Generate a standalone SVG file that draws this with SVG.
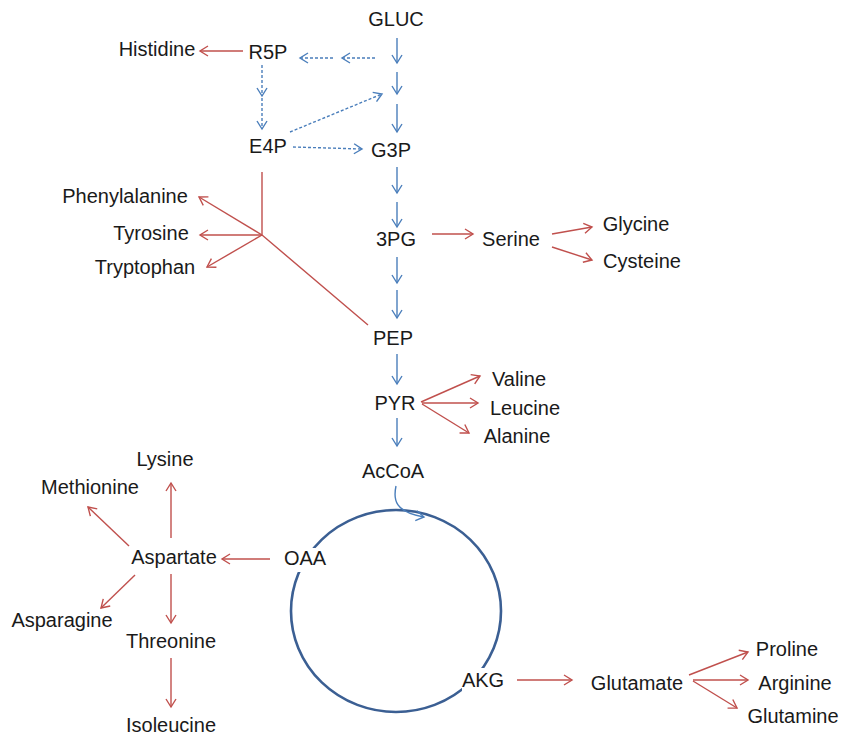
<svg xmlns="http://www.w3.org/2000/svg" width="848" height="738" viewBox="0 0 848 738">
  <defs>
    <marker id="ah-blue" viewBox="-10 -6 12 12" refX="0" refY="0" markerWidth="12" markerHeight="12" markerUnits="userSpaceOnUse" orient="auto">
      <path d="M-8,-5 L0,0 L-8,5" fill="none" stroke="#4a7ebb" stroke-width="1.4"/>
    </marker>
    <marker id="ah-red" viewBox="-10 -6 12 12" refX="0" refY="0" markerWidth="12" markerHeight="12" markerUnits="userSpaceOnUse" orient="auto">
      <path d="M-8,-5 L0,0 L-8,5" fill="none" stroke="#c0504d" stroke-width="1.4"/>
    </marker>
  </defs>
  <style>
    text { font-family: "Liberation Sans", Arial, sans-serif; font-size: 20px; fill: #1a1a1a; text-anchor: middle; }
    .blue { stroke: #4a7ebb; stroke-width: 1.4; fill: none; marker-end: url(#ah-blue); }
    .dash { stroke-dasharray: 3 2; }
    .red { stroke: #c0504d; stroke-width: 1.4; fill: none; marker-end: url(#ah-red); }
    .redline { stroke: #c0504d; stroke-width: 1.4; fill: none; }
  </style>
  <rect width="848" height="738" fill="#ffffff"/>

  <!-- TCA cycle -->
  <ellipse id="tca" cx="396" cy="611" rx="105" ry="101" fill="none" stroke="#3b5f93" stroke-width="2.6"/>

  <g id="connectors">
    <!-- glycolysis -->
    <line class="blue" x1="397" y1="38" x2="397" y2="63"/>
    <line class="blue" x1="397" y1="72" x2="397" y2="94"/>
    <line class="blue" x1="397" y1="104" x2="397" y2="132"/>
    <line class="blue" x1="397" y1="167" x2="397" y2="193"/>
    <line class="blue" x1="397" y1="202" x2="397" y2="227"/>
    <line class="blue" x1="397" y1="257" x2="397" y2="283"/>
    <line class="blue" x1="397" y1="290" x2="397" y2="318"/>
    <line class="blue" x1="397" y1="354" x2="397" y2="384"/>
    <line class="blue" x1="397" y1="418" x2="397" y2="446"/>
    <path class="blue" d="M396,486 C393,500 395,512 424,517"/>

    <!-- pentose phosphate (dashed) -->
    <line class="blue dash" x1="375" y1="58" x2="342" y2="58"/>
    <line class="blue dash" x1="333" y1="58" x2="300" y2="58"/>
    <line class="blue dash" x1="262" y1="65" x2="262" y2="96"/>
    <line class="blue dash" x1="262" y1="98" x2="262" y2="129"/>
    <line class="blue dash" x1="290" y1="132" x2="382" y2="94"/>
    <line class="blue dash" x1="293" y1="147" x2="362" y2="149"/>

    <!-- amino acid branches -->
    <line class="red" x1="243" y1="51" x2="200" y2="51"/>
    <polyline class="redline" points="262,172 262,235 368,325"/>
    <line class="red" x1="262" y1="235" x2="199" y2="197"/>
    <line class="red" x1="262" y1="235" x2="200" y2="235"/>
    <line class="red" x1="262" y1="235" x2="207" y2="267"/>

    <line class="red" x1="432" y1="234" x2="473" y2="234"/>
    <line class="red" x1="552" y1="234" x2="592" y2="227"/>
    <line class="red" x1="552" y1="247" x2="592" y2="260"/>

    <line class="red" x1="421" y1="402" x2="480" y2="376"/>
    <line class="red" x1="422" y1="403" x2="478" y2="403"/>
    <line class="red" x1="422" y1="404" x2="469" y2="433"/>

    <line class="red" x1="270" y1="559" x2="222" y2="559"/>
    <line class="red" x1="171" y1="538" x2="171" y2="483"/>
    <line class="red" x1="129" y1="546" x2="88" y2="507"/>
    <line class="red" x1="135" y1="575" x2="101" y2="608"/>
    <line class="red" x1="171" y1="574" x2="171" y2="623"/>
    <line class="red" x1="171" y1="658" x2="171" y2="707"/>

    <line class="red" x1="517" y1="680" x2="572" y2="680"/>
    <line class="red" x1="689" y1="675" x2="748" y2="652"/>
    <line class="red" x1="693" y1="680" x2="748" y2="680"/>
    <line class="red" x1="693" y1="681" x2="737" y2="708"/>
  </g>

  <g id="GLUC"><text x="396" y="26">GLUC</text></g>
  <g id="R5P"><text x="268" y="59">R5P</text></g>
  <g id="Histidine"><text x="157" y="56">Histidine</text></g>
  <g id="E4P"><text x="268" y="153">E4P</text></g>
  <g id="G3P"><text x="391" y="157">G3P</text></g>
  <g id="Phenylalanine"><text x="125" y="203">Phenylalanine</text></g>
  <g id="Tyrosine"><text x="151" y="240">Tyrosine</text></g>
  <g id="Tryptophan"><text x="145" y="274">Tryptophan</text></g>
  <g id="3PG"><text x="396" y="246">3PG</text></g>
  <g id="Serine"><text x="511" y="246">Serine</text></g>
  <g id="Glycine"><text x="636" y="231">Glycine</text></g>
  <g id="Cysteine"><text x="642" y="268">Cysteine</text></g>
  <g id="PEP"><text x="393" y="345">PEP</text></g>
  <g id="PYR"><text x="395" y="410">PYR</text></g>
  <g id="Valine"><text x="519" y="386">Valine</text></g>
  <g id="Leucine"><text x="525" y="415">Leucine</text></g>
  <g id="Alanine"><text x="517" y="443">Alanine</text></g>
  <g id="AcCoA"><text x="393" y="478">AcCoA</text></g>
  <g id="Lysine"><text x="165" y="466">Lysine</text></g>
  <g id="Methionine"><text x="90" y="494">Methionine</text></g>
  <g id="Aspartate"><text x="174" y="564">Aspartate</text></g>
  <g id="OAA"><rect x="282" y="548" width="46" height="24" fill="#ffffff"/><text x="305" y="565">OAA</text></g>
  <g id="Asparagine"><text x="62" y="627">Asparagine</text></g>
  <g id="Threonine"><text x="171" y="648">Threonine</text></g>
  <g id="Isoleucine"><text x="171" y="732">Isoleucine</text></g>
  <g id="AKG"><rect x="462" y="668" width="42" height="26" fill="#ffffff"/><text x="483" y="687">AKG</text></g>
  <g id="Glutamate"><text x="637" y="690">Glutamate</text></g>
  <g id="Proline"><text x="787" y="656">Proline</text></g>
  <g id="Arginine"><text x="795" y="690">Arginine</text></g>
  <g id="Glutamine"><text x="793" y="723">Glutamine</text></g>
</svg>
